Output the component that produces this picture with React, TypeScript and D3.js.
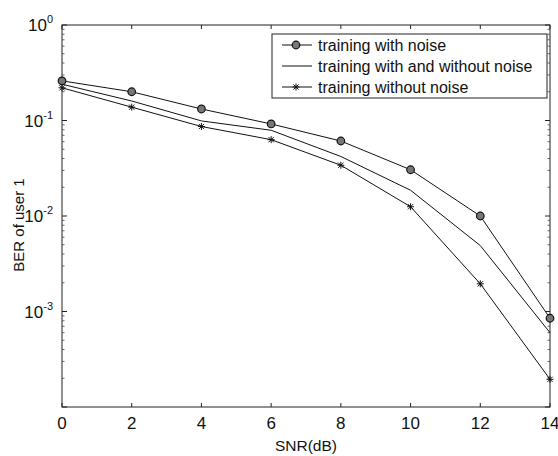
import React from "react";
import * as d3 from "d3";

const snr = [0, 2, 4, 6, 8, 10, 12, 14];
const withNoise = [0.26, 0.2, 0.132, 0.092, 0.061, 0.0305, 0.01, 0.00085];
const withAndWithout = [0.24, 0.16, 0.099, 0.079, 0.042, 0.0186, 0.0049, 0.0006];
const withoutNoise = [0.22, 0.138, 0.0865, 0.063, 0.034, 0.0125, 0.00195, 0.000195];
const xTicks = [0, 2, 4, 6, 8, 10, 12, 14];
const yMajor = [1, 0.1, 0.01, 0.001];
const yExp = ["0", "-1", "-2", "-3"];
const legendLabels = ["training with noise", "training with and without noise", "training without noise"];

const W = 558, H = 456;
const L = 62, R = 550, T = 25, B = 407;
const FONT = "'Liberation Sans', Arial, sans-serif";

export default function App() {
  const x = d3.scaleLinear().domain([0, 14]).range([L, R]);
  const y = d3.scaleLog().domain([1e-4, 1]).range([B, T]);
  const line = d3.line<number>().x((_, i) => x(snr[i])).y((v) => y(v));

  const minor: number[] = [];
  for (let e = -4; e < 0; e++) for (let k = 2; k <= 9; k++) minor.push(k * Math.pow(10, e));
  const majorAll = [1e-4, 1e-3, 1e-2, 1e-1, 1];

  const star = (cx: number, cy: number, key: string) => {
    const r = 3.5;
    return (
      <g key={key} stroke="#111" strokeWidth={1}>
        <line x1={cx - r} y1={cy} x2={cx + r} y2={cy} />
        <line x1={cx} y1={cy - r} x2={cx} y2={cy + r} />
        <line x1={cx - r * 0.75} y1={cy - r * 0.75} x2={cx + r * 0.75} y2={cy + r * 0.75} />
        <line x1={cx - r * 0.75} y1={cy + r * 0.75} x2={cx + r * 0.75} y2={cy - r * 0.75} />
      </g>
    );
  };
  const circ = (cx: number, cy: number, key: string) => (
    <circle key={key} cx={cx} cy={cy} r={3.8} fill="#777" stroke="#111" strokeWidth={1.2} />
  );

  const lx0 = 272, lx1 = 547, ly0 = 34, ly1 = 98;
  const rows = [45, 66, 87];

  return (
    <svg width={W} height={H} style={{ position: "absolute", left: 0, top: 0, background: "#fff" }} fontFamily={FONT}>
      <rect x={0} y={0} width={W} height={H} fill="#fff" />
      <rect x={L} y={T} width={R - L} height={B - T} fill="none" stroke="#222" strokeWidth={1} />
      {xTicks.map((t) => (
        <g key={"xt" + t} stroke="#222">
          <line x1={x(t)} y1={B} x2={x(t)} y2={B - 4} />
          <line x1={x(t)} y1={T} x2={x(t)} y2={T + 4} />
        </g>
      ))}
      {xTicks.map((t) => (
        <text key={"xl" + t} x={x(t)} y={429} fontSize={17} textAnchor="middle" fill="#111">{t}</text>
      ))}
      {majorAll.map((v) => (
        <g key={"ym" + v} stroke="#222">
          <line x1={L} y1={y(v)} x2={L + 5} y2={y(v)} />
          <line x1={R} y1={y(v)} x2={R - 5} y2={y(v)} />
        </g>
      ))}
      {minor.map((v) => (
        <g key={"yn" + v} stroke="#444" strokeWidth={0.8}>
          <line x1={L} y1={y(v)} x2={L + 2.5} y2={y(v)} />
          <line x1={R} y1={y(v)} x2={R - 2.5} y2={y(v)} />
        </g>
      ))}
      {yMajor.map((v, i) => (
        <text key={"yl" + v} x={53} y={y(v) + 6} fontSize={17} textAnchor="end" fill="#111">
          10
          <tspan fontSize={11} dy={-8}>{yExp[i]}</tspan>
        </text>
      ))}
      <text x={x(7)} y={451} fontSize={15.5} textAnchor="middle" fill="#111">SNR(dB)</text>
      <text transform={`translate(24,${(T + B) / 2 + 9}) rotate(-90)`} fontSize={15} textAnchor="middle" fill="#111">BER of user 1</text>
      <path d={line(withNoise) || ""} fill="none" stroke="#111" strokeWidth={1} />
      <path d={line(withAndWithout) || ""} fill="none" stroke="#111" strokeWidth={1} />
      <path d={line(withoutNoise) || ""} fill="none" stroke="#111" strokeWidth={1} />
      {withNoise.map((v, i) => circ(x(snr[i]), y(v), "c" + i))}
      {withoutNoise.map((v, i) => star(x(snr[i]), y(v), "s" + i))}
      <rect x={lx0} y={ly0} width={lx1 - lx0} height={ly1 - ly0} fill="#fff" stroke="#222" strokeWidth={1} />
      {rows.map((ry, i) => (
        <g key={"lg" + i}>
          <line x1={282} y1={ry} x2={312} y2={ry} stroke="#111" strokeWidth={1} />
          {i === 0 && circ(296, ry, "lc")}
          {i === 2 && star(296, ry, "ls")}
          <text x={318} y={ry + 5.5} fontSize={16} fill="#111">{legendLabels[i]}</text>
        </g>
      ))}
    </svg>
  );
}
